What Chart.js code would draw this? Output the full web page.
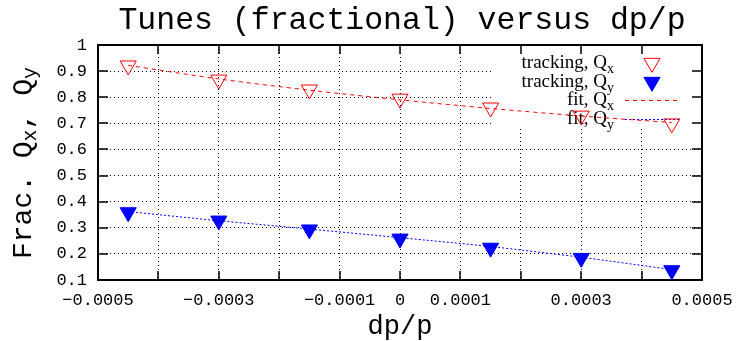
<!DOCTYPE html>
<html>
<head>
<meta charset="utf-8">
<title>Tunes (fractional) versus dp/p</title>
<script src="https://cdn.jsdelivr.net/npm/chart.js@4.4.1/dist/chart.umd.min.js"></script>
<style>
  html, body { margin: 0; padding: 0; background: #ffffff; }
  #wrap { width: 754px; height: 341px; }
</style>
</head>
<body>
<div id="wrap"><canvas id="chart" width="754" height="341"></canvas></div>
<script>
// Momentum offsets at which the tunes were tracked
const dpValues = [-0.00045, -0.0003, -0.00015, 0, 0.00015, 0.0003, 0.00045];

// Fractional tunes from tracking
const trackQx = [0.921, 0.867, 0.829, 0.794, 0.760, 0.729, 0.699];
const trackQy = [0.359, 0.327, 0.293, 0.258, 0.223, 0.184, 0.137];

// Chromatic fit curves evaluated at the same offsets
const fitQx = [0.922, 0.870, 0.827, 0.790, 0.757, 0.728, 0.703];
const fitQy = [0.362, 0.327, 0.295, 0.262, 0.228, 0.187, 0.140];

// Axis ticks
const xTickValues = [-0.0005, -0.0004, -0.0003, -0.0002, -0.0001, 0, 0.0001, 0.0002, 0.0003, 0.0004, 0.0005];
const xTickLabels = ['\u22120.0005', '', '\u22120.0003', '', '\u22120.0001', '0', '0.0001', '', '0.0003', '', '0.0005'];
const yTickValues = [0.1, 0.2, 0.3, 0.4, 0.5, 0.6, 0.7, 0.8, 0.9, 1];
const yTickLabels = ['0.1', '0.2', '0.3', '0.4', '0.5', '0.6', '0.7', '0.8', '0.9', '1'];

const MONO = '"Liberation Mono", "DejaVu Sans Mono", monospace';
const SERIF = '"Liberation Serif", "DejaVu Serif", serif';
const RED = '#ff0000';
const BLUE = '#0000ff';

function pts(xs, ys) { return xs.map((x, i) => ({ x: x, y: ys[i] })); }

// Draw text followed by a subscript; returns total width
function textWithSub(ctx, main, sub, x, y, size, subSize, font, align) {
  ctx.font = size + 'px ' + font;
  const wMain = ctx.measureText(main).width;
  ctx.font = subSize + 'px ' + font;
  const wSub = ctx.measureText(sub).width;
  const total = wMain + wSub;
  let x0 = x;
  if (align === 'right') x0 = x - total;
  else if (align === 'center') x0 = x - total / 2;
  ctx.textAlign = 'left';
  ctx.font = size + 'px ' + font;
  ctx.fillText(main, x0, y);
  ctx.font = subSize + 'px ' + font;
  ctx.fillText(sub, x0 + wMain, y + size * 0.28);
  return total;
}

function downTriangle(ctx, x, y, r, filled, color) {
  ctx.save();
  ctx.beginPath();
  ctx.moveTo(x, y + r);
  ctx.lineTo(x - r * 0.866, y - r / 2);
  ctx.lineTo(x + r * 0.866, y - r / 2);
  ctx.closePath();
  if (filled) { ctx.fillStyle = color; ctx.fill(); }
  ctx.strokeStyle = color; ctx.lineWidth = 1; ctx.stroke();
  ctx.restore();
}

// Key box, frame, inward tics and titles (drawn under the data)
const decorations = {
  id: 'gnuplotDecor',
  beforeDatasetsDraw(chart) {
    const ctx = chart.ctx;
    const a = chart.chartArea;
    const xs = chart.scales.x, ys = chart.scales.y;
    ctx.save();

    // opaque key box
    const keyLeft = 492, keyBottom = 128;
    ctx.fillStyle = '#ffffff';
    ctx.fillRect(keyLeft, a.top, a.right - keyLeft, keyBottom - a.top);

    // key entries
    ctx.fillStyle = '#000';
    ctx.textBaseline = 'alphabetic';
    const textRight = 614;
    const rows = [63, 82, 100, 119];
    textWithSub(ctx, 'tracking, Q', 'x', textRight, rows[0] + 5, 19, 14, SERIF, 'right');
    textWithSub(ctx, 'tracking, Q', 'y', textRight, rows[1] + 5, 19, 14, SERIF, 'right');
    textWithSub(ctx, 'fit, Q', 'x', textRight, rows[2] + 5, 19, 14, SERIF, 'right');
    textWithSub(ctx, 'fit, Q', 'y', textRight, rows[3] + 5, 19, 14, SERIF, 'right');
    downTriangle(ctx, 652, rows[0], 9.3, false, RED);
    downTriangle(ctx, 652, rows[1], 9.3, true, BLUE);
    ctx.lineWidth = 1;
    ctx.strokeStyle = RED; ctx.setLineDash([4, 4]);
    ctx.beginPath(); ctx.moveTo(625, rows[2] + 0.5); ctx.lineTo(680, rows[2] + 0.5); ctx.stroke();
    ctx.strokeStyle = BLUE; ctx.setLineDash([2, 2]);
    ctx.beginPath(); ctx.moveTo(625, rows[3] + 0.5); ctx.lineTo(680, rows[3] + 0.5); ctx.stroke();
    ctx.setLineDash([]);

    // inward tics on all four sides
    ctx.strokeStyle = '#000';
    ctx.lineWidth = 1.5;
    ctx.beginPath();
    xTickValues.forEach(v => {
      const px = Math.round(xs.getPixelForValue(v));
      ctx.moveTo(px, a.bottom); ctx.lineTo(px, a.bottom - 9);
      ctx.moveTo(px, a.top); ctx.lineTo(px, a.top + 9);
    });
    yTickValues.forEach(v => {
      const py = Math.round(ys.getPixelForValue(v));
      ctx.moveTo(a.left, py); ctx.lineTo(a.left + 10, py);
      ctx.moveTo(a.right, py); ctx.lineTo(a.right - 10, py);
    });
    ctx.stroke();

    // frame
    ctx.lineWidth = 2;
    ctx.strokeRect(a.left, a.top, a.right - a.left, a.bottom - a.top);

    // main title
    ctx.fillStyle = '#000';
    ctx.textAlign = 'center';
    ctx.textBaseline = 'middle';
    ctx.font = '31.5px ' + MONO;
    ctx.fillText('Tunes (fractional) versus dp/p', 402, 21);

    // x axis title
    ctx.font = '27px ' + MONO;
    ctx.fillText('dp/p', 400, 327);

    // y axis title, rotated
    ctx.translate(24, 163);
    ctx.rotate(-Math.PI / 2);
    ctx.textBaseline = 'middle';
    ctx.font = '28px ' + MONO;
    const m1 = ctx.measureText('Frac. Q').width;
    const m2 = ctx.measureText(', Q').width;
    ctx.font = '20px ' + MONO;
    const s1 = ctx.measureText('x').width;
    const s2 = ctx.measureText('y').width;
    let cx = -(m1 + s1 + m2 + s2) / 2;
    ctx.textAlign = 'left';
    ctx.font = '28px ' + MONO; ctx.fillText('Frac. Q', cx, 0); cx += m1;
    ctx.font = '20px ' + MONO; ctx.fillText('x', cx, 7); cx += s1;
    ctx.font = '28px ' + MONO; ctx.fillText(', Q', cx, 0); cx += m2;
    ctx.font = '20px ' + MONO; ctx.fillText('y', cx, 7);

    ctx.restore();
  },
  // the drawing surface ends just past the last tick label
  afterDraw(chart) {
    const ctx = chart.ctx;
    ctx.save();
    ctx.fillStyle = '#ffffff';
    ctx.fillRect(734, chart.chartArea.bottom + 2, chart.width - 734, chart.height - chart.chartArea.bottom - 2);
    ctx.restore();
  }
};

new Chart(document.getElementById('chart'), {
  type: 'scatter',
  data: {
    datasets: [
      {
        label: 'fit, Qx',
        data: pts(dpValues, fitQx),
        showLine: true,
        borderColor: RED,
        borderWidth: 1,
        borderDash: [4, 4],
        pointRadius: 0,
        tension: 0.3,
        order: 3
      },
      {
        label: 'fit, Qy',
        data: pts(dpValues, fitQy),
        showLine: true,
        borderColor: BLUE,
        borderWidth: 1,
        borderDash: [2, 2],
        pointRadius: 0,
        tension: 0.3,
        order: 4
      },
      {
        label: 'tracking, Qx',
        data: pts(dpValues, trackQx),
        showLine: false,
        pointStyle: 'triangle',
        rotation: 180,
        pointRadius: 9.3,
        pointHoverRadius: 9.3,
        pointBorderWidth: 1,
        pointBorderColor: RED,
        pointBackgroundColor: 'rgba(0,0,0,0)',
        order: 1
      },
      {
        label: 'tracking, Qy',
        data: pts(dpValues, trackQy),
        showLine: false,
        pointStyle: 'triangle',
        rotation: 180,
        pointRadius: 9.3,
        pointHoverRadius: 9.3,
        pointBorderWidth: 1,
        pointBorderColor: BLUE,
        pointBackgroundColor: BLUE,
        order: 2
      }
    ]
  },
  options: {
    responsive: false,
    animation: false,
    devicePixelRatio: 1,
    layout: { padding: { top: 45, right: 52, left: 0, bottom: 0 } },
    plugins: {
      legend: { display: false },
      tooltip: { enabled: false },
      title: { display: false }
    },
    scales: {
      x: {
        type: 'linear',
        min: -0.0005,
        max: 0.0005,
        afterBuildTicks(scale) { scale.ticks = xTickValues.map(v => ({ value: v })); },
        afterFit(scale) { scale.height = 61; },
        ticks: {
          autoSkip: false,
          maxRotation: 0,
          minRotation: 0,
          padding: 10,
          color: '#000',
          font: { family: MONO, size: 17 },
          callback(value, index) { return xTickLabels[index]; }
        },
        grid: { drawTicks: false, color: '#000', lineWidth: 1 },
        border: { display: false, dash: [1, 3] }
      },
      y: {
        type: 'linear',
        min: 0.1,
        max: 1,
        afterBuildTicks(scale) { scale.ticks = yTickValues.map(v => ({ value: v })); },
        afterFit(scale) { scale.width = 98; },
        ticks: {
          padding: 11,
          color: '#000',
          font: { family: MONO, size: 17 },
          callback(value, index) { return yTickLabels[index]; }
        },
        grid: { drawTicks: false, color: '#000', lineWidth: 1 },
        border: { display: false, dash: [1, 3] }
      }
    }
  },
  plugins: [decorations]
});
</script>
</body>
</html>
